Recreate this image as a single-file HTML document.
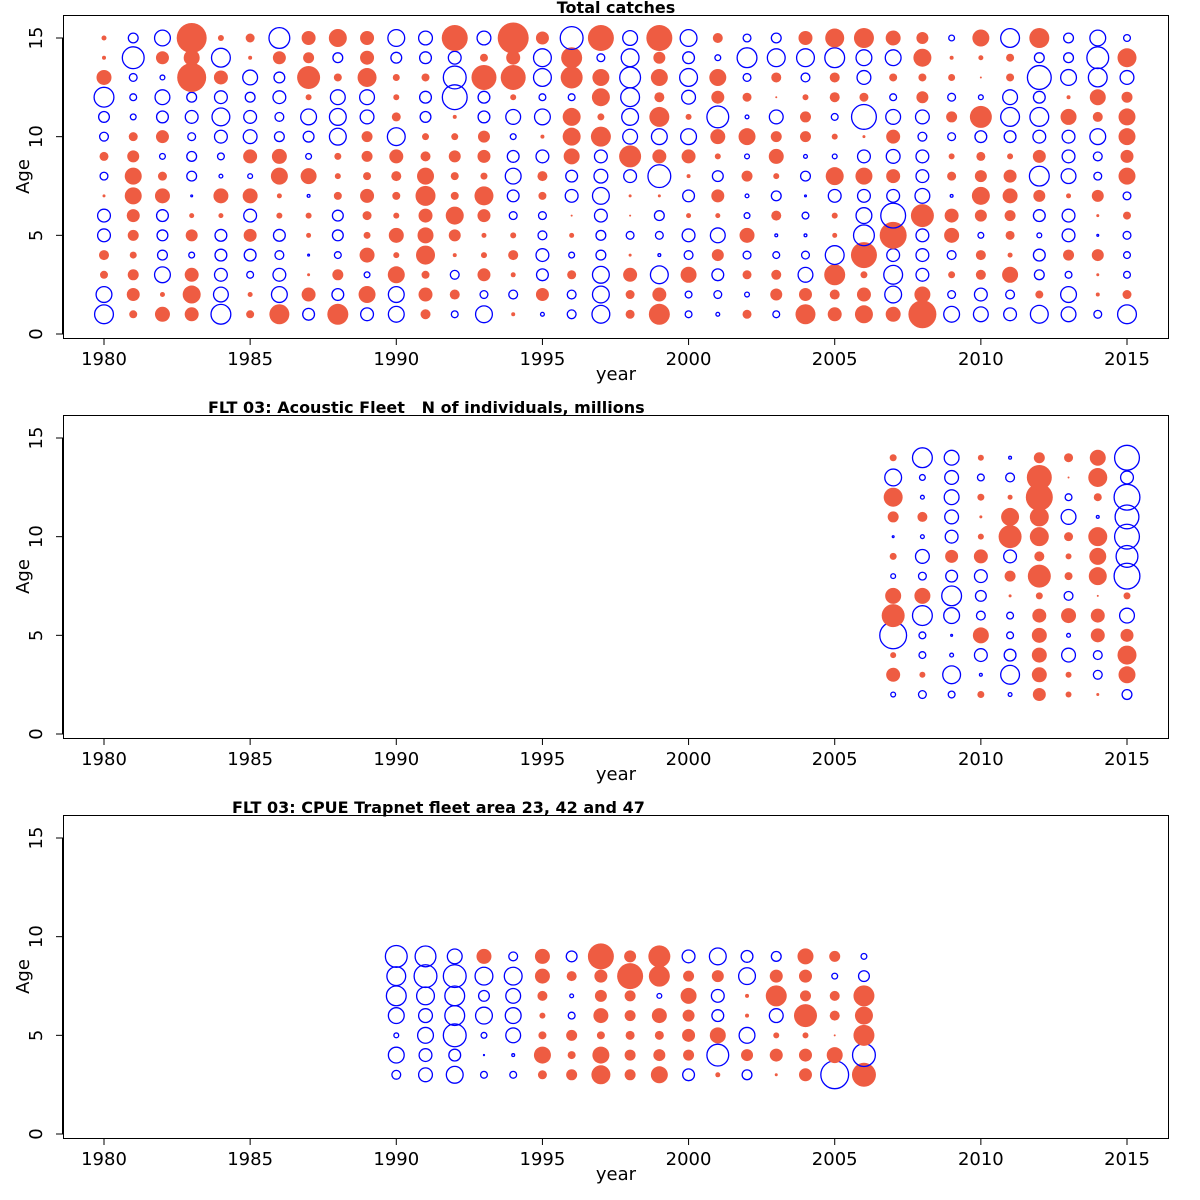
<!DOCTYPE html>
<html><head><meta charset="utf-8"><style>
body{margin:0;background:#fff}
svg{display:block;font-family:"DejaVu Sans","Liberation Sans",sans-serif}
</style></head><body>
<svg id="s" width="1200" height="1200" viewBox="0 0 1200 1200"></svg>
<script>
// Panel 1: Total catches — residual bubbles (signed size), ages 1..15 per year
const catchYears = [1980,1981,1982,1983,1984,1985,1986,1987,1988,1989,1990,1991,1992,1993,1994,1995,1996,1997,1998,1999,2000,2001,2002,2003,2004,2005,2006,2007,2008,2009,2010,2011,2012,2013,2014,2015];
const catchAges = [1,2,3,4,5,6,7,8,9,10,11,12,13,14,15];
const catchResid = [
[-10,-8.5,4,5,-7,-7,1.5,-4.5,4.5,-5,-6,-10.5,7.5,2,2.5],
[4,6.5,5.5,3.5,5.5,6.5,8.5,8.5,6,4.5,-3.5,-4,-4.5,-11.5,-5.5],
[7.5,2.5,-8.5,-5.5,-6,-6.5,7.5,4.5,-3.5,6.5,-6.5,-8,-3,6.5,-8.5],
[7,9,7,-3.5,6,2.5,-1.5,-5.5,-5.5,-4.5,-7,-5.5,14.5,8,15],
[-10.5,-8,-7,-6.5,-6.5,2.5,7.5,-2.5,-4,-7,-9.5,-7,7,-10,3],
[4,2.5,-4,-6.5,6.5,-7,7.5,-3,7,-7.5,-7,-5.5,-8,2,4.5],
[10,-8.5,-7,-5,-6.5,3,2.5,8.5,7.5,-5.5,-5,-7,-6,6.5,-11],
[-6.5,7,1.5,-1.5,2.5,3,-2,8,-3.5,-6,-8.5,3,11.5,5.5,7],
[10.5,-6.5,5.5,-4,-6,-6,4,3,3.5,-9,-9,-8,4,-5.5,9],
[-7,8.5,-3.5,7.5,3.5,4.5,7,4,5.5,5.5,-7.5,-8,9.5,7,7],
[-8.5,-8.5,8.5,3,7.5,3,4,5,7,-9.5,4.5,3,3.5,-6,-9],
[5,7,4,9.5,8,7,10,8.5,5,3.5,-6,-6.5,4,-6.5,-7.5],
[-4,5,-5,2,6,9,4,4,6,3.5,2,-13,-12,-7,13],
[-9,-4.5,6.5,3,2.5,6.5,9.5,3.5,6.5,6,-6.5,-6.5,12.5,4,-7.5],
[2,-5,2.5,5,3,-4.5,-6.5,-8.5,-6.5,-3.5,-8,3,12.5,7,15.5],
[-2.5,6.5,-6.5,-7,-5,-4.5,4,5,-7,2,-8.5,-4,-9.5,-9.5,6.5],
[-5,-5,4.5,-3.5,2.5,1,-7,-6.5,8,9,9,-4,11,10.5,-12],
[-9.5,-9,-9,-5.5,-5.5,-7,-9,-7.5,-7,10,3.5,9,8.5,-4.5,13],
[4.5,4.5,7,1.5,-4.5,1,1.5,-7,11,-8,-9,-10,-11,-9.5,-8],
[10.5,7,-9.5,-2,-4.5,-5.5,1.5,-12,7,-8.5,10,5,8.5,6,13],
[-4,-4,8,-5,-7,2.5,-6.5,2,7,-8.5,3,-7.5,-9.5,-6.5,-9],
[-2.5,-4.5,-6.5,6,-8,2.5,6.5,-6,3,7.5,-11.5,6.5,8.5,-3.5,5],
[4.5,-3,4.5,-4.5,7.5,-3.5,-2.5,5.5,-3,8.5,-2.5,4.5,-4.5,-10.5,-4.5],
[-4,6,5,-4,-2,5,-5.5,3,7.5,5.5,-7.5,1,5,-9.5,-5.5],
[10,6.5,-8,-4.5,-2,-4,-1.5,-5.5,-2.5,5.5,5.5,3,-5,-9.5,7],
[7,5,10.5,-10,2.5,3,-7,9,-3,3,-4,5,5,-10.5,9.5],
[9,7,3.5,13,-11,-8.5,-7,8.5,-7,1.5,-13,4.5,-7.5,-8.5,10],
[7.5,-9,-10,-7,13.5,-13,-7,7,-7.5,7,-8,-4,4,-8.5,7.5],
[14,8,-7,-7,-7,11.5,-8,-7,-7,-5,-7.5,6,4,9,6],
[-8.5,-4.5,3.5,-5,7.5,7,-2,4.5,3,-4.5,5.5,-4.5,3.5,2,-3.5],
[-8,-7,5,5,-3.5,6,9,6,4.5,-6.5,11,-3,1,2.5,8.5],
[-7,-5,8,2.5,4.5,5.5,7.5,6.5,3,-6.5,-10,-8,4,4,-10],
[-9.5,4,-5.5,-6.5,-3,-6.5,6,-10.5,6.5,-7,-10,-6.5,-12.5,-5.5,10],
[-8,-8.5,-4,5.5,-7,-7,2.5,-8,-7,-7,8,2,-8.5,-5.5,-5.5],
[-4.5,2,1.5,6,-1.5,1.5,6,-4.5,-5,-8.5,5,8,-10,-11.5,-8.5],
[-10,4.5,-4,-4,-4.5,4,-4.5,8.5,6.5,8.5,8.5,5.5,-7.5,9.5,-4]
];
// Panel 2: Acoustic fleet, ages 2..14
const acYears = [2007,2008,2009,2010,2011,2012,2013,2014,2015];
const acAges = [2,3,4,5,6,7,8,9,10,11,12,13,14];
const acResid = [
[-3,7,3,-14,11.5,8,-3,3.5,-1.5,5.5,9.5,-9,3.5],
[-4.5,3,-4,-4,-10.5,8,-4.5,-7.5,-2.5,5,-2.5,-3.5,-10.5],
[-4,-9.5,-2.5,-1.5,-8.5,-10.5,-6.5,6.5,-7,-7.5,-8,-7.5,-8],
[3.5,-2,-7,8,-5,-6,-7,7,3,1.5,3.5,-4,3],
[-2.5,-10,-6.5,-4,-4,1.5,5.5,-7,11.5,9,2.5,-5,-2],
[6.5,7.5,7.5,7.5,7,3.5,11.5,5,9.5,9.5,13.5,12.5,5.5],
[3,3,-7.5,-2.5,7.5,-5,4,3,4.5,-8,-4,1,4.5],
[1.5,-5,-5,7,7,1,9,8.5,9.5,-2,4,9.5,8],
[-5.5,8.5,9.5,6.5,-8,3.5,-13.5,-11.5,-13,-12.5,-13.5,-7,-13]
];
// Panel 3: CPUE trapnet, ages 3..9
const trYears = [1990,1991,1992,1993,1994,1995,1996,1997,1998,1999,2000,2001,2002,2003,2004,2005,2006];
const trAges = [3,4,5,6,7,8,9];
const trResid = [
[-5,-8.5,-3,-8.5,-10.5,-10,-11.5],
[-7.5,-7,-8.5,-7.5,-9.5,-12,-11],
[-9,-6.5,-12,-10.5,-10.5,-12,-8],
[-4,-1,-3.5,-9,-6,-9.5,7.5],
[-4,-2,-8,-8.5,-8,-9.5,-5],
[4.5,8.5,4,3,5,7.5,7.5],
[5.5,4,5.5,-4,-2.5,5,-6],
[9.5,8.5,4,7.5,6,6.5,13],
[5.5,5.5,4.5,5.5,5.5,13,6],
[8.5,6,4.5,7.5,-3,10.5,11],
[-6.5,5.5,6.5,6,8,5.5,-7],
[2.5,-11.5,8,-6.5,-7,6,-9],
[-5.5,6,-8.5,2,2,-9,-6.5],
[1.5,6.5,3,-7.5,10.5,6.5,-5.5],
[6.5,6.5,3,11.5,5.5,6.5,8],
[-14.5,8,1,5,5,-3.5,5.5],
[12,-12,10.5,9,10.5,-6,-3.5]
];
const xTicks = [1980,1985,1990,1995,2000,2005,2010,2015];
const yTicks = [0,5,10,15];

const NS='http://www.w3.org/2000/svg';
const svg=document.getElementById('s');
function mk(tag,attrs,parent){const e=document.createElementNS(NS,tag);for(const k in attrs)e.setAttribute(k,attrs[k]);(parent||svg).appendChild(e);return e;}
const X0=63,X1=1168;
function xScale(yr){return 104+(yr-1980)*(1127-104)/35;}

function panel(top,title,titleX,titleAnchor,years,ages,resid,name){
  const g=mk('g',{});
  
  
  const bot=top+323;
  const y0=bot-4, y15=top+23;
  const yScale=a=>y0+(y15-y0)*a/15;
  const box=mk('rect',{x:X0+0.5,y:top+0.5,width:X1-X0,height:bot-top,fill:'none',stroke:'#000','stroke-width':1},g);
  
  
  const xa=mk('g',{},g);
  
  
  mk('line',{x1:xScale(1980),x2:xScale(2015),y1:bot+0.5,y2:bot+0.5,stroke:'#000'},xa);
  xTicks.forEach(t=>{
    const x=xScale(t);
    mk('line',{x1:x,x2:x,y1:bot,y2:bot+7,stroke:'#000'},xa);
    const tx=mk('text',{x:x,y:bot+27,'text-anchor':'middle','font-size':18},xa);
    tx.textContent=t;
    
    
  });
  const xt=mk('text',{x:616,y:bot+42,'text-anchor':'middle','font-size':18},g);
  xt.textContent='year';
  
  
  const ya=mk('g',{},g);
  
  
  mk('line',{x1:X0-0.5,x2:X0-0.5,y1:yScale(0),y2:yScale(15),stroke:'#000'},ya);
  yTicks.forEach(t=>{
    const y=yScale(t);
    mk('line',{x1:X0-7,x2:X0,y1:y,y2:y,stroke:'#000'},ya);
    const tx=mk('text',{x:42,y:y,'text-anchor':'middle','font-size':18,transform:`rotate(-90 42 ${y})`},ya);
    tx.textContent=t;
    
    
  });
  const yt=mk('text',{x:29,y:(top+bot)/2,'text-anchor':'middle','font-size':18,transform:`rotate(-90 29 ${(top+bot)/2})`},g);
  yt.textContent='Age';
  
  
  const tt=mk('text',{x:titleX,y:top-2,'text-anchor':titleAnchor,'font-size':16,'font-weight':'bold',style:'white-space:pre'},g);
  tt.textContent=title;
  
  
  const bg=mk('g',{},g);
  
  
  years.forEach((yr,i)=>{
    ages.forEach((a,j)=>{
      const v=resid[i][j];
      const r=Math.max(Math.abs(v),0.6);
      const c=mk('circle',{cx:xScale(yr),cy:yScale(a),r:v>0?r:Math.max(r-0.6,0.5),
        fill:v>0?'#EE5C42':'none',stroke:v>0?'none':'#0000FF','stroke-width':1.3},bg);
      
      
    });
  });
}
panel(15,'Total catches',616,'middle',catchYears,catchAges,catchResid,'total-catches');
panel(415,'FLT 03: Acoustic Fleet   N of individuals, millions',208,'start',acYears,acAges,acResid,'acoustic-fleet');
panel(815,'FLT 03: CPUE Trapnet fleet area 23, 42 and 47',232,'start',trYears,trAges,trResid,'cpue-trapnet');
</script>
</body></html>
